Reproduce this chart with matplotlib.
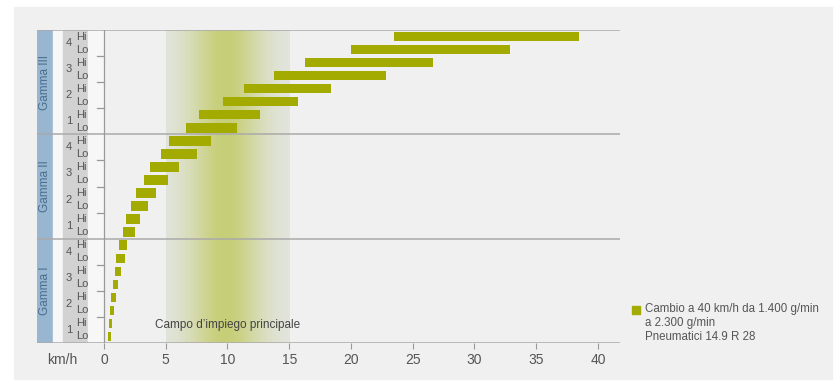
import matplotlib
matplotlib.use("Agg")
import matplotlib.pyplot as plt
from matplotlib.patches import Rectangle
import numpy as np

plt.rcParams["font.family"] = ["Liberation Sans", "DejaVu Sans"]

# dati: velocita (km/h) inizio/fine per ogni marcia, dall'alto verso il basso
gamme = ["Gamma III", "Gamma II", "Gamma I"]
marce = ["4", "3", "2", "1"]
rapporti = ["Hi", "Lo"]
v_inizio = [23.5, 20.0, 16.3, 13.8, 11.3, 9.6, 7.7, 6.6,
            5.3, 4.6, 3.7, 3.2, 2.6, 2.2, 1.8, 1.5,
            1.2, 1.0, 0.9, 0.7, 0.6, 0.5, 0.4, 0.35]
v_fine = [38.5, 32.9, 26.6, 22.8, 18.4, 15.7, 12.6, 10.8,
          8.7, 7.5, 6.1, 5.2, 4.2, 3.6, 2.9, 2.5,
          1.9, 1.7, 1.4, 1.1, 1.0, 0.8, 0.65, 0.55]
xticks = [0, 5, 10, 15, 20, 25, 30, 35, 40]
campo = (5, 15)

W, H = 840, 388
verde = "#a3ab00"
grigio_txt = "#555555"
linea = "#aaaaaa"

fig = plt.figure(figsize=(W / 100, H / 100), dpi=100)
fig.patch.set_facecolor("white")
fig.patches.append(Rectangle((14 / W, 1 - 379 / H), (832 - 14) / W, (379 - 7) / H,
                             transform=fig.transFigure, color="#f0f0f0", zorder=-10))

# px -> dati: 0 km/h a x=104, 40 km/h a x=598
k = (598 - 104) / 40.0
def px(x):
    return (x - 104) / k

ax = fig.add_axes([37 / W, 1 - 343 / H, (620 - 37) / W, (343 - 30) / H])
ax.set_facecolor("none")
nrows = len(v_inizio)
for s in ax.spines.values():
    s.set_visible(False)

# colonne a sinistra
ax.axvspan(px(37), px(53), color="#98b6d0", zorder=1)
ax.axvspan(px(53), px(63), color="#f7f7f7", zorder=1)
ax.axvspan(px(63), px(88), color="#d2d2d2", zorder=1)
ax.axvspan(px(88), px(104), color="#f7f7f7", zorder=1)

# campo d'impiego principale (sfumatura)
xs = np.linspace(campo[0], campo[1], 200)
w = np.exp(-((xs - 9.8) / 3.0) ** 2)
c_bordo = np.array([0.89, 0.90, 0.885])
c_centro = np.array([0.78, 0.81, 0.47])
img = c_bordo[None, :] * (1 - w[:, None]) + c_centro[None, :] * w[:, None]
ax.imshow(img[None, :, :], extent=[campo[0], campo[1], nrows, 0], aspect="auto",
          zorder=2, interpolation="bilinear")
ax.set_xlim(px(37), px(620))
ax.set_ylim(nrows, 0)
ax.text(10, 22.6, "Campo d\u2019impiego principale", ha="center", va="center",
        fontsize=8.5, color="#444444", zorder=5)

# barre
y = np.arange(nrows) + 0.5
ax.barh(y, np.array(v_fine) - np.array(v_inizio), left=v_inizio, height=0.72,
        color=verde, zorder=4)

# linee di separazione
for i in range(len(gamme) + 1):
    ax.axhline(i * 8, color=linea, lw=1.1, zorder=6)
ax.plot([0, 0], [0, nrows], color="#999999", lw=0.9, zorder=6)
for g in range(len(gamme)):
    for j in (2, 4, 6):
        ax.plot([px(97), 0], [g * 8 + j] * 2, color="#999999", lw=0.9, zorder=6)

# etichette
for g, nome in enumerate(gamme):
    ax.text(px(45), g * 8 + 4, nome, rotation=90, ha="center", va="center",
            fontsize=8.5, color="#4a6e90", zorder=7)
    for m, marcia in enumerate(marce):
        base = g * 8 + m * 2
        ax.text(px(69), base + 1, marcia, ha="center", va="center",
                fontsize=8, color=grigio_txt, zorder=7)
        for r, rap in enumerate(rapporti):
            ax.text(px(76), base + r + 0.5, rap, ha="left", va="center",
                    fontsize=8, color=grigio_txt, zorder=7)

ax.set_yticks([])
ax.set_xticks(xticks)
ax.set_xticklabels([str(t) for t in xticks])
ax.tick_params(axis="x", direction="out", length=4, color="#999999",
               labelsize=10, labelcolor=grigio_txt, pad=3)
ax.text(px(62), nrows + 0.75, "km/h", ha="center", va="top", fontsize=10,
        color=grigio_txt)

# legenda
fig.patches.append(Rectangle((632 / W, 1 - 314 / H), 8 / W, 8 / H,
                             transform=fig.transFigure, color=verde, zorder=5))
fig.text(645 / W, 1 - 303 / H,
         "Cambio a 40 km/h da 1.400 g/min\na 2.300 g/min\nPneumatici 14.9 R 28",
         ha="left", va="top", fontsize=8.3, color=grigio_txt, linespacing=1.2)

fig.savefig("out.png", dpi=100, facecolor=fig.get_facecolor())
